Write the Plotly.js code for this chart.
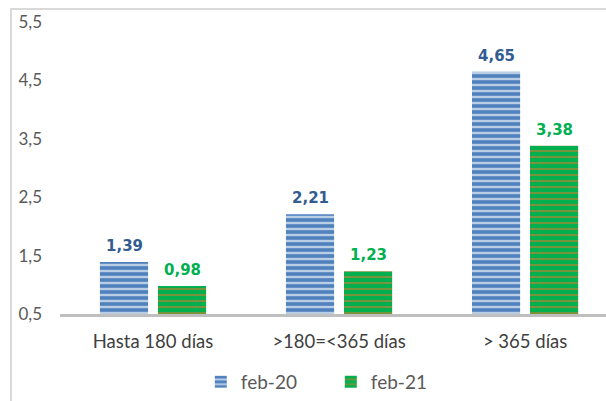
<!DOCTYPE html>
<html>
<head>
<meta charset="utf-8">
<script src="https://cdn.plot.ly/plotly-3.0.1.min.js"></script>
<style>
  html, body { margin: 0; padding: 0; background: #ffffff; }
  #wrap { position: relative; width: 606px; height: 401px; overflow: hidden; }
  #frame { position: absolute; left: 10px; top: 8px; width: 620px; height: 420px;
           border-left: 2px solid #d9d9d9; border-top: 2px solid #d9d9d9; pointer-events: none; }
  #chart { position: absolute; left: 0; top: 0; width: 606px; height: 401px; }
</style>
</head>
<body>
<div id="wrap">
  <div id="chart"></div>
  <div id="frame"></div>
</div>
<script>
const categories = ["Hasta 180 días", ">180=<365 días", "> 365 días"];
const seriesNames = ["feb-20", "feb-21"];
const feb20 = [1.39, 2.21, 4.65];
const feb21 = [0.98, 1.23, 3.38];
const yTicks = [0.5, 1.5, 2.5, 3.5, 4.5, 5.5];

const blueBg = "#4f81bd", blueFg = "#b9cde5", blueText = "#335c91";
const greenBg = "#00b050", greenFg = "#77933c", greenText = "#00b050";

const traces = [
  {
    type: "bar", name: seriesNames[0], x: categories, y: feb20,
    marker: { color: blueBg, line: { width: 0 },
      pattern: { shape: "-", bgcolor: blueBg, fgcolor: blueFg, size: 6, solidity: 0.4, fillmode: "replace" } },
    hoverinfo: "skip"
  },
  {
    type: "bar", name: seriesNames[1], x: categories, y: feb21,
    marker: { color: greenBg, line: { width: 0 },
      pattern: { shape: "-", bgcolor: greenBg, fgcolor: greenFg, size: 6, solidity: 0.35, fillmode: "replace" } },
    hoverinfo: "skip"
  }
];

const fmt = v => v.toFixed(2).replace(".", ",");
const labelFont = "'DejaVu Sans', Lato, sans-serif";
const annotations = [];
categories.forEach((c, i) => {
  annotations.push({ x: c, y: feb20[i], xref: "x", yref: "y", text: fmt(feb20[i]), showarrow: false,
    xshift: -29, yanchor: "bottom", yshift: 5,
    font: { family: labelFont, size: 15, color: blueText, weight: "bold" } });
  annotations.push({ x: c, y: feb21[i], xref: "x", yref: "y", text: fmt(feb21[i]), showarrow: false,
    xshift: 29, yanchor: "bottom", yshift: 5,
    font: { family: labelFont, size: 15, color: greenText, weight: "bold" } });
});

const layout = {
  width: 606, height: 401,
  margin: { l: 60, r: 0, t: 22, b: 87, pad: 0 },
  paper_bgcolor: "rgba(0,0,0,0)", plot_bgcolor: "rgba(0,0,0,0)",
  separators: ",.",
  font: { family: "Lato, 'Open Sans', sans-serif", color: "#595959" },
  barmode: "group", bargap: 0.376, bargroupgap: 0.17,
  showlegend: true,
  legend: { orientation: "h", x: 0.496, xanchor: "center", y: -0.233, yanchor: "middle",
    font: { size: 19, color: "#595959" }, itemwidth: 30, entrywidth: 85, traceorder: "normal" },
  xaxis: {
    type: "category", range: [-0.5, 2.435], fixedrange: true,
    showline: true, linecolor: "#bfbfbf", linewidth: 3,
    ticks: "", showgrid: false, zeroline: false,
    tickfont: { size: 18.5, color: "#404040" }, ticklabelstandoff: 9
  },
  yaxis: {
    range: [0.5, 5.5], tickvals: yTicks, ticktext: yTicks.map(v => v.toFixed(1).replace(".", ",")),
    showgrid: false, zeroline: false, showline: false, ticks: "",
    tickfont: { size: 17, color: "#595959" }, ticklabelstandoff: 17, fixedrange: true
  },
  annotations: annotations
};

Plotly.newPlot("chart", traces, layout, { displayModeBar: false, staticPlot: true });
</script>
</body>
</html>
